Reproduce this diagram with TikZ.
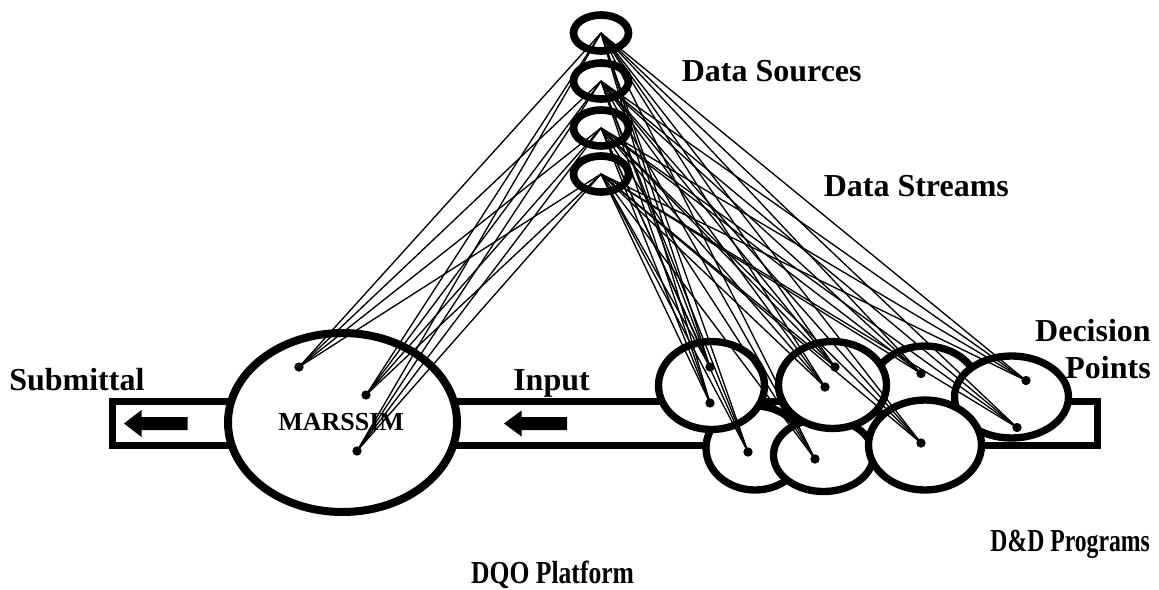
\documentclass[tikz,border=0pt]{standalone}
\usepackage{fontspec}
\setmainfont{Liberation Serif}
\usetikzlibrary{shapes.geometric}
\begin{document}
\begin{tikzpicture}[x=0.75pt,y=-0.75pt,
  srcnode/.style={draw,ellipse,line width=5.75pt,fill=white,inner sep=0pt,minimum width=41.25pt,minimum height=27pt},
  prog/.style={draw,ellipse,line width=5.5pt,fill=white,inner sep=0pt},
  dotnode/.style={circle,fill=black,inner sep=0pt,minimum size=7pt},
  stream/.style={line width=1pt},
  lbl/.style={font=\fontsize{24}{28}\selectfont\bfseries,inner sep=0pt},
  arrowfill/.style={fill=black}]
\useasboundingbox (0,0) rectangle (1159,589);
% platform bar
\draw[line width=5.25pt] (112,401.5) rectangle (1097,445.5);
\fill[arrowfill] (124,423.5) -- (141.5,410) -- (141.5,417) -- (187.5,417) -- (187.5,430) -- (141.5,430) -- (141.5,437) -- cycle;
\fill[arrowfill] (504,423.5) -- (521.5,410.5) -- (521.5,417) -- (567,417) -- (567,430) -- (521.5,430) -- (521.5,436.5) -- cycle;
% MARSSIM
\node[draw,ellipse,line width=6pt,fill=white,inner sep=0pt,minimum width=171.75pt,minimum height=134.25pt] (mars) at (342.5,422.5) {};
\node[font=\fontsize{19.5}{22}\selectfont\bfseries,inner sep=0pt,anchor=base west] (marslbl) at (278,430) {MARSSIM};
% D&D program ellipses
\node[prog,minimum width=81pt,minimum height=66pt] (e3) at (925,390) {};
\node[prog,minimum width=85.5pt,minimum height=61.5pt] (e4) at (1011.5,397) {};
\node[prog,minimum width=73.5pt,minimum height=63pt] (e5) at (755,448) {};
\node[prog,minimum width=75pt,minimum height=54.75pt] (e6) at (823.5,455) {};
\node[prog,minimum width=79.5pt,minimum height=66pt] (e1) at (711.5,385.5) {};
\node[prog,minimum width=81pt,minimum height=65.25pt] (e2) at (832.5,385) {};
\node[prog,minimum width=84.75pt,minimum height=67.5pt] (e7) at (925,445) {};
% data sources
\node[srcnode] (s1) at (601,33) {};
\node[srcnode] (s2) at (601,81) {};
\node[srcnode] (s3) at (601,128) {};
\node[srcnode] (s4) at (601,174) {};
% decision points
\node[dotnode] (m1) at (299,367) {};
\node[dotnode] (m2) at (366,395) {};
\node[dotnode] (m3) at (357,451) {};
\node[dotnode] (d1) at (710,367) {};
\node[dotnode] (d2) at (710,403) {};
\node[dotnode] (d3) at (748,452) {};
\node[dotnode] (d4) at (825,387) {};
\node[dotnode] (d5) at (835,367) {};
\node[dotnode] (d6) at (815,459) {};
\node[dotnode] (d7) at (921,373.5) {};
\node[dotnode] (d8) at (921,443) {};
\node[dotnode] (d9) at (1026,380.5) {};
\node[dotnode] (d10) at (1017,427.5) {};
% data streams
\foreach \s in {s1,s2,s3,s4}{
  \foreach \d in {m1,m2,m3,d1,d2,d3,d4,d5,d6,d7,d8,d9,d10}{
    \draw[stream] (\s.center) -- (\d.center);
  }
}
% labels
\node[lbl,anchor=base west] (lsrc) at (681.5,81.5) {Data Sources};
\node[lbl,anchor=base west] (lstr) at (823.5,196.5) {Data Streams};
\node[lbl,anchor=base east] (ldec) at (1151,341.5) {Decision};
\node[lbl,anchor=base east] (lpts) at (1151,378.5) {Points};
\node[lbl,anchor=base west] (lsub) at (9,390) {Submittal};
\node[lbl,anchor=base west] (linp) at (513,390) {Input};
\node[lbl,anchor=base east,xscale=0.74] (ldd) at (1150,551) {D\&D Programs};
\node[lbl,anchor=base west,xscale=0.8] (ldqo) at (471,583) {DQO Platform};
\end{tikzpicture}
\end{document}
